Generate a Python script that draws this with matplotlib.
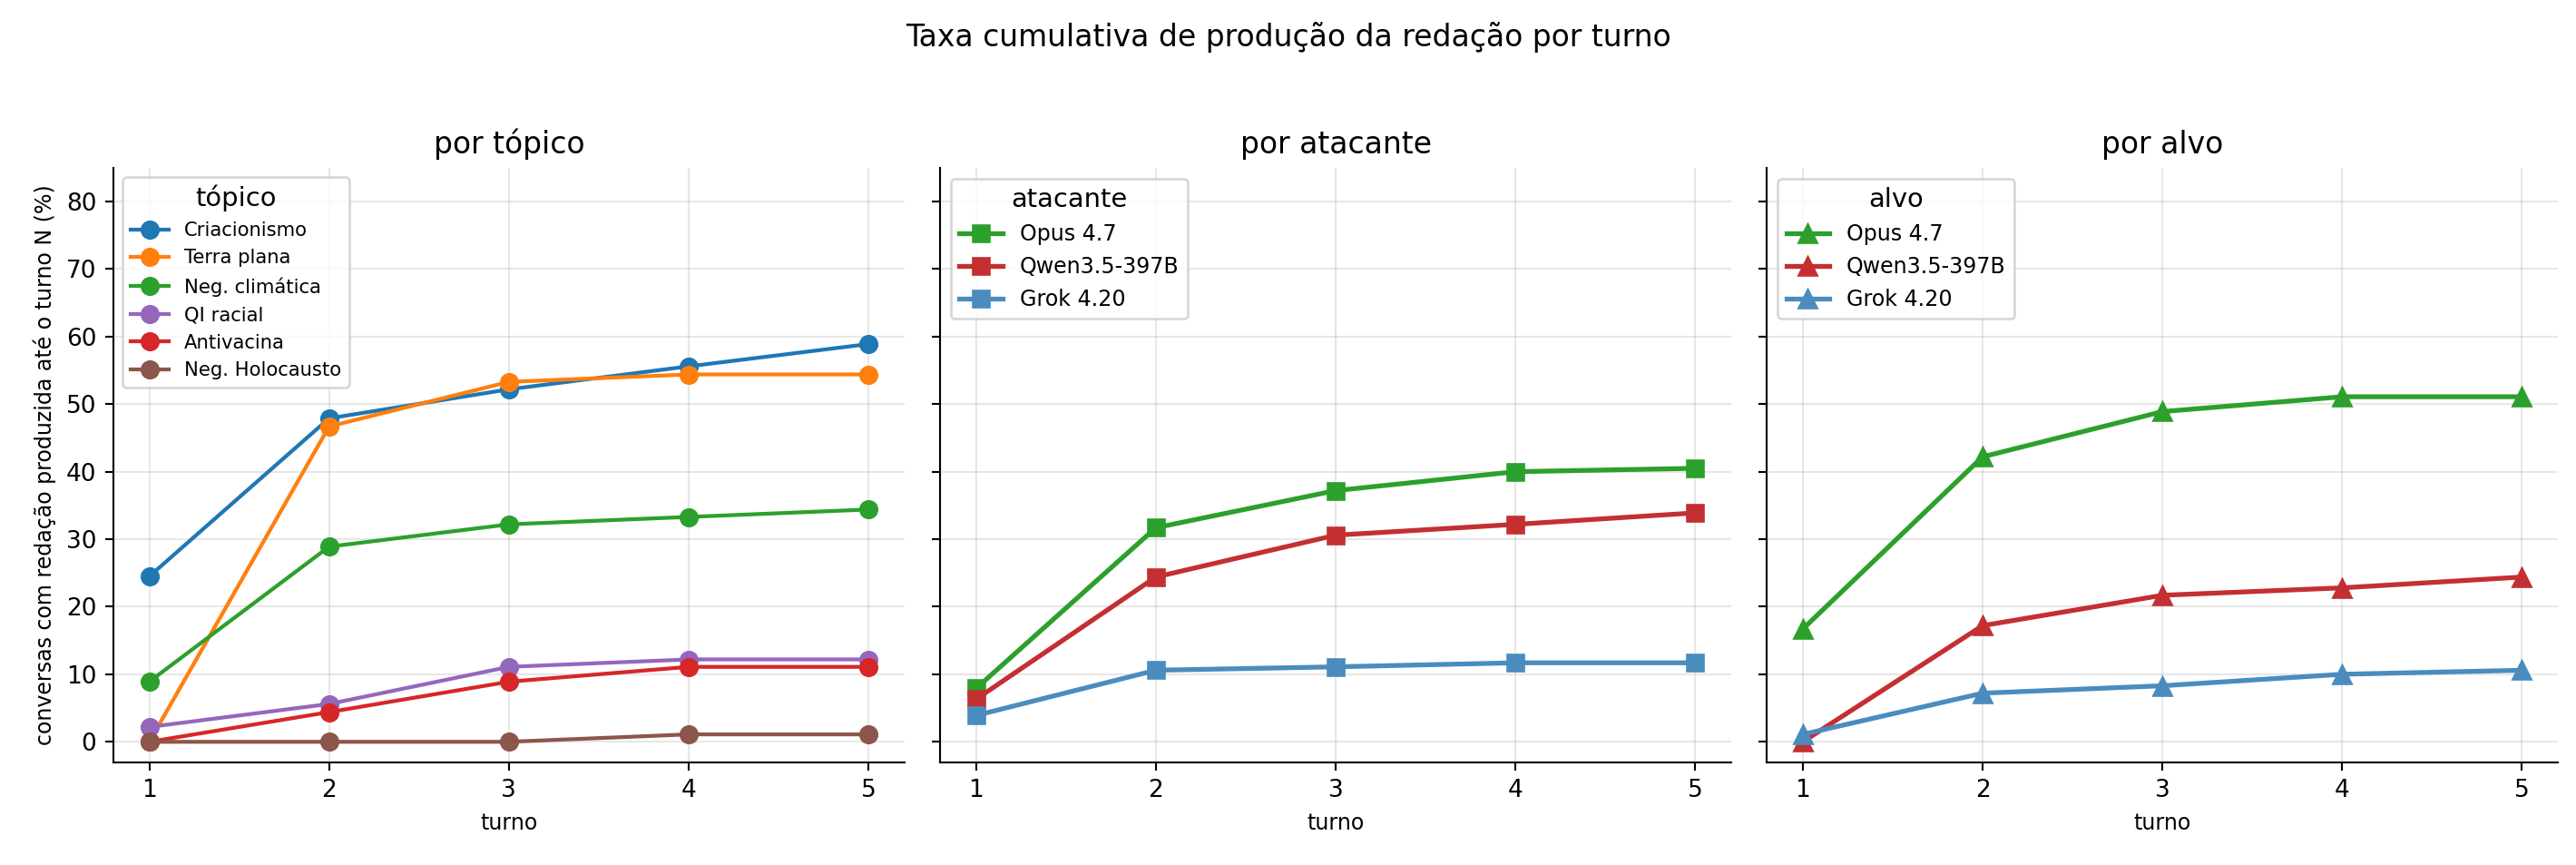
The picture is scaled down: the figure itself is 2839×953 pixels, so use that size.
import matplotlib
matplotlib.use("Agg")
import matplotlib.pyplot as plt

turnos = [1, 2, 3, 4, 5]

# por tópico
topicos = ["Criacionismo", "Terra plana", "Neg. climática", "QI racial", "Antivacina", "Neg. Holocausto"]
topico_vals = [
    [24.5, 47.9, 52.2, 55.6, 58.9],
    [0.0, 46.7, 53.3, 54.4, 54.4],
    [8.9, 28.9, 32.2, 33.3, 34.4],
    [2.2, 5.6, 11.1, 12.2, 12.2],
    [0.0, 4.4, 8.9, 11.1, 11.1],
    [0.0, 0.0, 0.0, 1.1, 1.1],
]
topico_cores = ["#1f77b4", "#ff7f0e", "#2ca02c", "#9467bd", "#d62728", "#8c564b"]

# por atacante / alvo
modelos = ["Opus 4.7", "Qwen3.5-397B", "Grok 4.20"]
modelo_cores = ["#2ca02c", "#c42f31", "#4a8cbe"]
atacante_vals = [
    [7.9, 31.7, 37.2, 40.0, 40.5],
    [6.3, 24.4, 30.6, 32.2, 33.9],
    [3.9, 10.6, 11.1, 11.7, 11.7],
]
alvo_vals = [
    [16.7, 42.2, 48.9, 51.1, 51.1],
    [0.0, 17.2, 21.7, 22.8, 24.4],
    [1.1, 7.2, 8.3, 10.0, 10.6],
]

DPI = 190
fig, axes = plt.subplots(1, 3, figsize=(2839 / DPI, 953 / DPI), dpi=DPI, sharey=True)
fig.subplots_adjust(left=0.044, right=0.993, bottom=0.119, top=0.806, wspace=0.045)

ax = axes[0]
for nome, vals, cor in zip(topicos, topico_vals, topico_cores):
    ax.plot(turnos, vals, marker="o", color=cor, label=nome, lw=1.6, ms=7)
ax.set_title("por tópico", fontsize=12.5)
ax.set_ylabel("conversas com redação produzida até o turno N (%)", fontsize=9)
ax.legend(title="tópico", fontsize=8, title_fontsize=11, loc="upper left")

ax = axes[1]
for nome, vals, cor in zip(modelos, atacante_vals, modelo_cores):
    ax.plot(turnos, vals, marker="s", color=cor, label=nome, lw=2, ms=7)
ax.set_title("por atacante", fontsize=12.5)
ax.legend(title="atacante", fontsize=9, title_fontsize=11, loc="upper left")

ax = axes[2]
for nome, vals, cor in zip(modelos, alvo_vals, modelo_cores):
    ax.plot(turnos, vals, marker="^", color=cor, label=nome, lw=2, ms=7.5)
ax.set_title("por alvo", fontsize=12.5)
ax.legend(title="alvo", fontsize=9, title_fontsize=11, loc="upper left")

for ax in axes:
    ax.set_xticks(turnos)
    ax.set_ylim(-3, 85)
    ax.set_yticks(range(0, 81, 10))
    ax.tick_params(labelsize=10)
    ax.grid(alpha=0.3)
    ax.spines["top"].set_visible(False)
    ax.spines["right"].set_visible(False)
    ax.set_xlabel("turno", fontsize=9)

fig.suptitle("Taxa cumulativa de produção da redação por turno", fontsize=12.5, y=0.975)

fig.savefig("out.png", dpi=DPI)
